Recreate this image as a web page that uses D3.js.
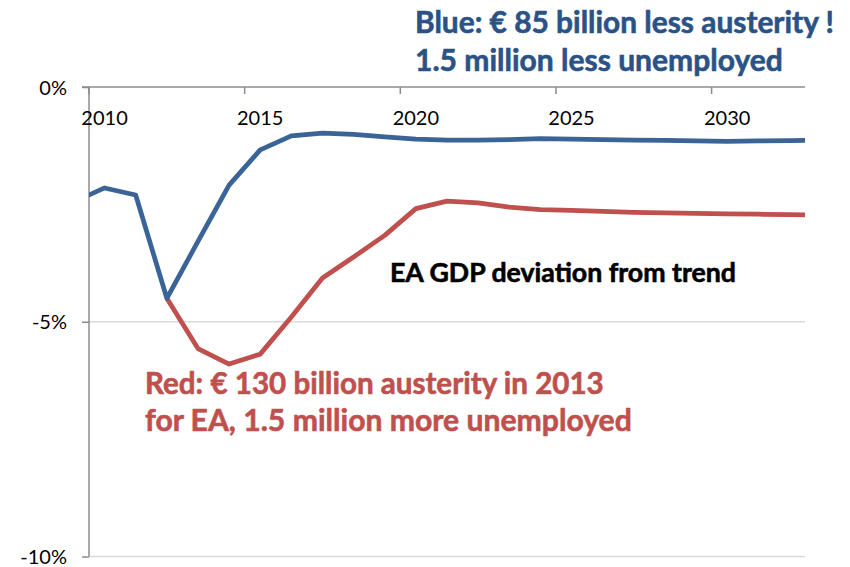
<!DOCTYPE html>
<html>
<head>
<meta charset="utf-8">
<script src="https://cdn.jsdelivr.net/npm/d3@7"></script>
<style>
  html, body { margin: 0; padding: 0; background: #fff; }
  svg { display: block; }
</style>
</head>
<body>
<svg id="chart" width="850" height="567"></svg>
<script>
// ---- data ----
const years = [2009, 2010, 2011, 2012, 2013, 2014, 2015, 2016, 2017, 2018, 2019, 2020, 2021,
               2022, 2023, 2024, 2025, 2026, 2027, 2028, 2029, 2030, 2031, 2032, 2033];
const blueSeries = [-2.45, -2.15, -2.30, -4.50, -3.29, -2.09, -1.34, -1.04, -0.98, -1.01, -1.06, -1.11, -1.13,
                    -1.13, -1.12, -1.10, -1.11, -1.12, -1.13, -1.135, -1.15, -1.16, -1.15, -1.14, -1.13];
const redSeries  = [null, null, null, -4.50, -5.57, -5.90, -5.69, -4.90, -4.07, -3.62, -3.16, -2.59, -2.43,
                    -2.47, -2.56, -2.61, -2.63, -2.65, -2.67, -2.68, -2.69, -2.70, -2.71, -2.72, -2.73];
const yTicks = [0, -5, -10];
const yTickLabels = ["0%", "-5%", "-10%"];
const xLabelYears = [2010, 2015, 2020, 2025, 2030];
const blueText = ["Blue: € 85 billion less austerity !", "1.5 million less unemployed"];
const redText = ["Red: € 130 billion austerity in 2013", "for EA, 1.5 million more unemployed"];
const midText = "EA GDP deviation from trend";

// ---- layout ----
const svg = d3.select("#chart");
const pLeft = 89, pRight = 805, pTop = 87, pBottom = 556.5;
const x = d3.scaleLinear().domain([2009.5, 2032.5]).range([pLeft, pRight]);
const y = d3.scaleLinear().domain([0, -10]).range([pTop, pBottom]);

const blueCol = "#3A6397", redCol = "#C0504D", blueTextCol = "#2A5286";
const gridCol = "#D9D9D9", axisCol = "#8C8C8C";
const font = "Lato, 'Open Sans', sans-serif";

// gridlines
svg.append("g").selectAll("line").data(yTicks.filter(d => d !== 0)).join("line")
  .attr("x1", pLeft).attr("x2", pRight)
  .attr("y1", d => y(d)).attr("y2", d => y(d))
  .attr("stroke", gridCol).attr("stroke-width", 1.5);

// y axis
const yAxis = d3.axisLeft(y).tickValues(yTicks).tickSize(7).tickFormat((d, i) => yTickLabels[i]);
const gy = svg.append("g").attr("transform", `translate(${pLeft},0)`).call(yAxis);
gy.select(".domain").remove();
gy.append("line").attr("x1", 0).attr("x2", 0).attr("y1", pTop).attr("y2", pBottom)
  .attr("stroke", axisCol).attr("stroke-width", 1.5);
gy.selectAll(".tick line").attr("stroke", axisCol).attr("stroke-width", 1.5);
gy.selectAll(".tick text").attr("x", -22).attr("dy", "0.35em")
  .style("font-family", font).style("font-size", "20px").attr("fill", "#000");

// x axis at top (0%), ticks between categories pointing down, labels centred on categories
const tickBounds = xLabelYears.map(v => v - 0.5);
const gx = svg.append("g").attr("transform", `translate(0,${pTop})`);
gx.append("line").attr("x1", pLeft - 7).attr("x2", pRight).attr("y1", 0).attr("y2", 0)
  .attr("stroke", axisCol).attr("stroke-width", 1.5);
gx.selectAll("line.tk").data(tickBounds).join("line").attr("class", "tk")
  .attr("x1", d => x(d)).attr("x2", d => x(d)).attr("y1", 0).attr("y2", 7)
  .attr("stroke", axisCol).attr("stroke-width", 1.5);
gx.selectAll("text").data(xLabelYears).join("text")
  .attr("x", d => x(d)).attr("y", 31).attr("dy", "0.35em").attr("text-anchor", "middle")
  .style("font-family", font).style("font-size", "20px").attr("fill", "#000")
  .text(d => d);

// clip for lines
svg.append("clipPath").attr("id", "plot").append("rect")
  .attr("x", pLeft).attr("y", 0).attr("width", pRight - pLeft).attr("height", 567);

const line = series => d3.line()
  .defined((d, i) => series[i] !== null)
  .x((d, i) => x(years[i]))
  .y((d, i) => y(series[i]))(years);

const lines = svg.append("g").attr("clip-path", "url(#plot)");
lines.append("path").attr("d", line(redSeries)).attr("fill", "none")
  .attr("stroke", redCol).attr("stroke-width", 4.75).attr("stroke-linejoin", "round");
lines.append("path").attr("d", line(blueSeries)).attr("fill", "none")
  .attr("stroke", blueCol).attr("stroke-width", 4.75).attr("stroke-linejoin", "round");

// text annotations, fitted to measured widths
function fitText(sel, targetW) {
  const n = sel.node();
  const fs = parseFloat(sel.style("font-size"));
  const w = n.getComputedTextLength();
  sel.style("font-size", (fs * targetW / w).toFixed(2) + "px");
}
const annots = [
  { t: blueText[0], x: 415, y: 33, w: 419, c: blueTextCol, fs: 28 },
  { t: blueText[1], x: 415, y: 71, w: 368, c: blueTextCol, fs: 28 },
  { t: redText[0], x: 145, y: 394, w: 459, c: redCol, fs: 28 },
  { t: redText[1], x: 145, y: 431, w: 487, c: redCol, fs: 28 },
  { t: midText, x: 390, y: 282, w: 346, c: "#000", fs: 22 }
];
annots.forEach(a => {
  const s = svg.append("text").attr("x", a.x).attr("y", a.y)
    .style("font-family", font).style("font-weight", "bold").style("font-size", a.fs + "px")
    .attr("fill", a.c).attr("stroke", a.c).attr("stroke-width", 0.6)
    .text(a.t);
  fitText(s, a.w);
});
</script>
</body>
</html>
